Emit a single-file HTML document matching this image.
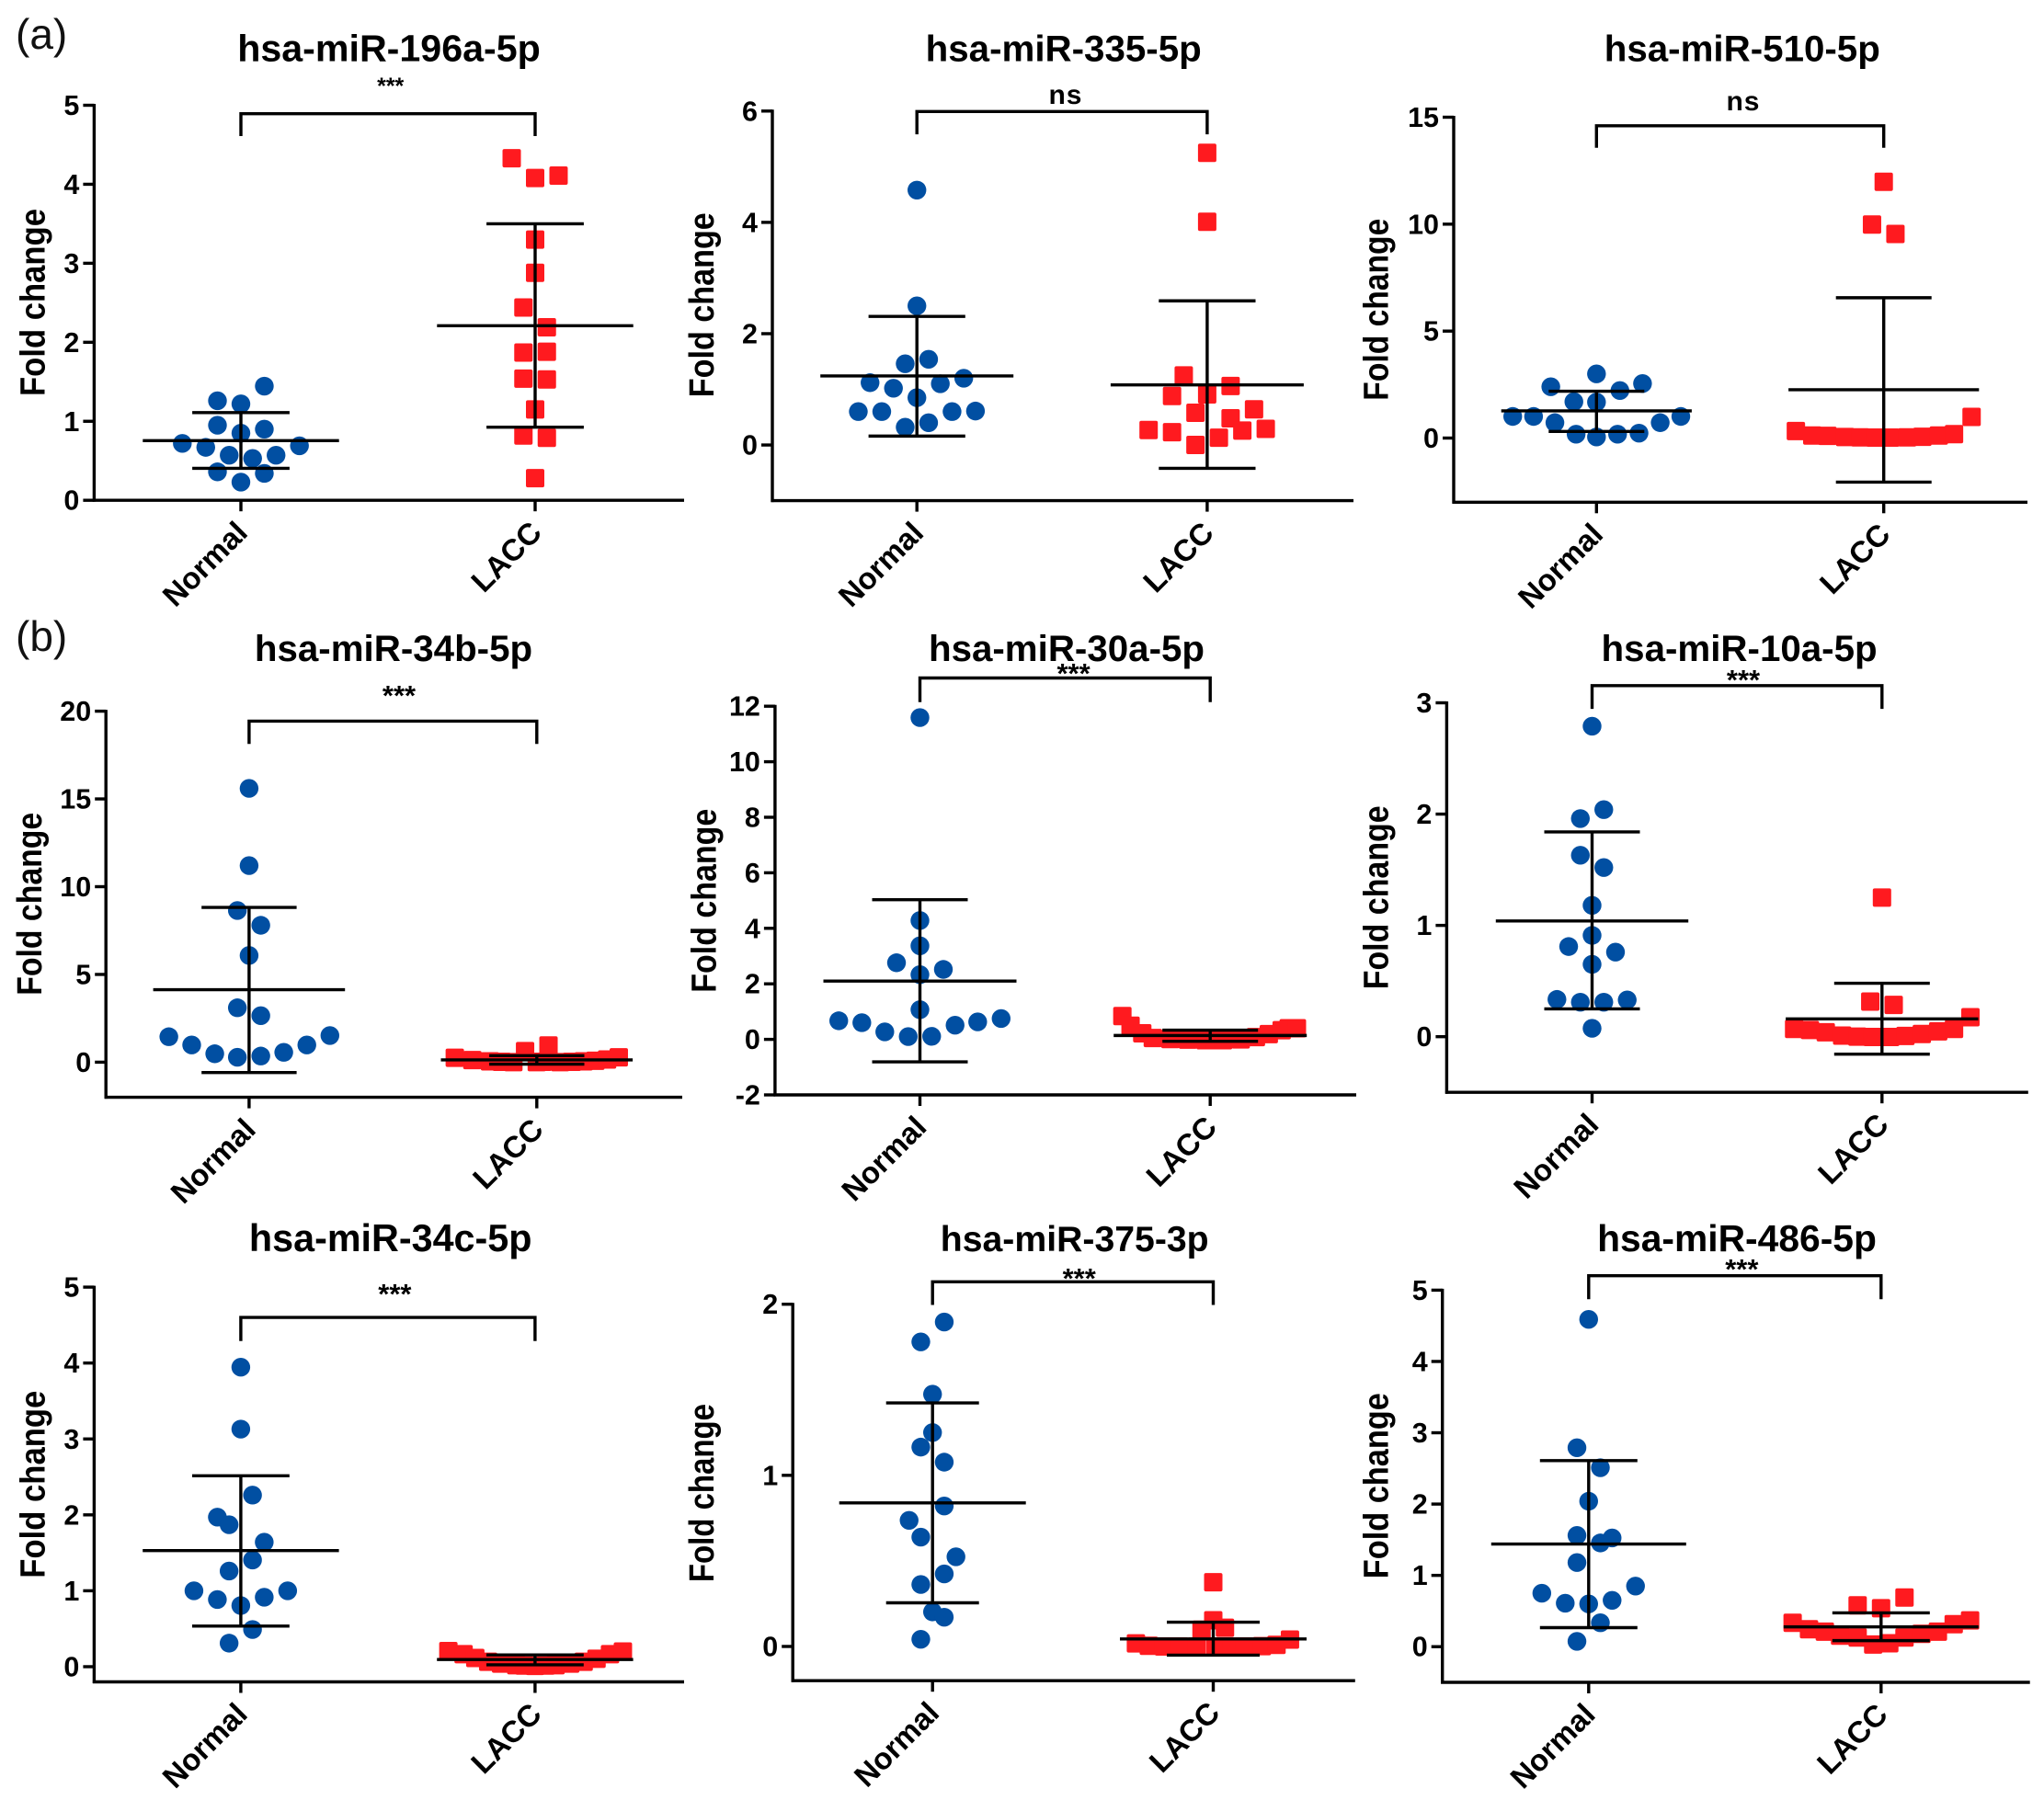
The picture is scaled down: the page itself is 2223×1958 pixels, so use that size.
<!DOCTYPE html>
<html lang="en">
<head>
<meta charset="utf-8">
<title>miRNA fold change scatter plots</title>
<style>
html,body{margin:0;padding:0;background:#fff;}
svg{display:block;font-family:"Liberation Sans",Arial,sans-serif;}
.title{font-size:40.3px;font-weight:bold;text-anchor:middle;fill:#000;}
.ylab{font-size:38px;font-weight:bold;text-anchor:middle;fill:#000;}
.stars{font-size:31px;font-weight:bold;text-anchor:middle;fill:#000;}
.ns{font-size:30px;font-weight:bold;text-anchor:middle;fill:#000;letter-spacing:1px;}
.plabel{font-size:46px;fill:#111;}
.tick{font-size:30.5px;font-weight:bold;text-anchor:end;fill:#000;}
.cat{font-size:33px;font-weight:bold;text-anchor:end;fill:#000;}
</style>
</head>
<body>
<svg id="fig" width="2223" height="1958" viewBox="0 0 2223 1958" xmlns="http://www.w3.org/2000/svg">
<rect width="2223" height="1958" fill="#fff"/>
<text class="plabel" x="17" y="53">(a)</text>
<text class="plabel" x="17" y="708">(b)</text>

<g id="panel-0">
<text class="title" style="font-size:41.2px" x="423" y="66.5">hsa-miR-196a-5p</text>
<text class="ylab" textLength="204" lengthAdjust="spacingAndGlyphs" transform="translate(48.6,329) rotate(-90)">Fold change</text>
<text class="stars" style="font-size:25px" x="424.7" y="102">***</text>
</g>
<g id="panel-1">
<text class="title" x="1156.7" y="66.5">hsa-miR-335-5p</text>
<text class="ylab" textLength="201" lengthAdjust="spacingAndGlyphs" transform="translate(775.9,331.7) rotate(-90)">Fold change</text>
<text class="ns" x="1159" y="112.8">ns</text>
</g>
<g id="panel-2">
<text class="title" x="1894.8" y="66.5">hsa-miR-510-5p</text>
<text class="ylab" textLength="198" lengthAdjust="spacingAndGlyphs" transform="translate(1509.3,336.7) rotate(-90)">Fold change</text>
<text class="ns" x="1896" y="120">ns</text>
</g>
<g id="panel-3">
<text class="title" x="428" y="718.9">hsa-miR-34b-5p</text>
<text class="ylab" textLength="199" lengthAdjust="spacingAndGlyphs" transform="translate(44.8,983.3) rotate(-90)">Fold change</text>
<text class="stars" x="434" y="767">***</text>
</g>
<g id="panel-4">
<text class="title" x="1160" y="718.9">hsa-miR-30a-5p</text>
<text class="ylab" textLength="200" lengthAdjust="spacingAndGlyphs" transform="translate(778.7,979.7) rotate(-90)">Fold change</text>
<text class="stars" x="1167.6" y="743">***</text>
</g>
<g id="panel-5">
<text class="title" x="1891.6" y="718.9">hsa-miR-10a-5p</text>
<text class="ylab" textLength="200" lengthAdjust="spacingAndGlyphs" transform="translate(1509.3,976.3) rotate(-90)">Fold change</text>
<text class="stars" x="1896" y="750">***</text>
</g>
<g id="panel-6">
<text class="title" style="font-size:41.3px" x="424.7" y="1360.8">hsa-miR-34c-5p</text>
<text class="ylab" textLength="204" lengthAdjust="spacingAndGlyphs" transform="translate(48.6,1614.7) rotate(-90)">Fold change</text>
<text class="stars" x="429.4" y="1418">***</text>
</g>
<g id="panel-7">
<text class="title" style="font-size:39.2px" x="1168.7" y="1360.8">hsa-miR-375-3p</text>
<text class="ylab" textLength="194" lengthAdjust="spacingAndGlyphs" transform="translate(775.9,1624.1) rotate(-90)">Fold change</text>
<text class="stars" x="1173.7" y="1401">***</text>
</g>
<g id="panel-8">
<text class="title" style="font-size:40.8px" x="1889" y="1360.8">hsa-miR-486-5p</text>
<text class="ylab" textLength="202" lengthAdjust="spacingAndGlyphs" transform="translate(1509.7,1616.2) rotate(-90)">Fold change</text>
<text class="stars" x="1894.3" y="1391">***</text>
</g>
</svg>

<script>
// Shared categories
const categories = ['Normal', 'LACC'];

// hsa-miR-196a-5p
const p0Ticks = [0, 1, 2, 3, 4, 5];
const p0NormalValues = [1.445, 1.26, 1.22, 0.95, 0.90, 0.85, 0.72, 0.67, 0.69, 0.57, 0.53, 0.57, 0.36, 0.34, 0.23];
const p0NormalSwarm = [2, -2, 0, -2, 2, 0, -5, -3, 5, -1, 1, 3, -2, 2, 0];
const p0LaccValues = [4.33, 4.08, 4.11, 3.30, 2.88, 2.44, 2.19, 1.87, 1.88, 1.54, 1.53, 1.15, 0.82, 0.79, 0.28];
const p0LaccSwarm = [-2, 0, 2, 0, 0, -1, 1, -1, 1, -1, 1, 0, -1, 1, 0];
const p0Mean = [0.755, 2.21];
const p0Upper = [1.11, 3.50];
const p0Lower = [0.405, 0.925];

// hsa-miR-335-5p
const p1Ticks = [0, 2, 4, 6];
const p1NormalValues = [4.58, 2.50, 1.54, 1.46, 1.12, 1.20, 1.02, 1.10, 0.85, 0.60, 0.60, 0.60, 0.61, 0.40, 0.32];
const p1NormalSwarm = [0, 0, 1, -1, -4, 4, -2, 2, 0, -5, -3, 3, 5, 1, -1];
const p1LaccValues = [5.25, 4.01, 1.25, 1.06, 0.88, 0.91, 0.58, 0.64, 0.48, 0.27, 0.23, 0.26, 0.29, 0.13, 0.0];
const p1LaccSwarm = [0, 0, -2, 2, -3, 0, -1, 4, 2, -5, -3, 3, 5, 1, -1];
const p1Mean = [1.24, 1.08];
const p1Upper = [2.31, 2.59];
const p1Lower = [0.16, -0.42];

// hsa-miR-510-5p
const p2Ticks = [0, 5, 10, 15];
const p2NormalValues = [3.0, 2.40, 2.55, 2.22, 1.70, 1.68, 1.01, 1.01, 1.01, 0.72, 0.72, 0.18, 0.18, 0.23, 0.05];
const p2NormalSwarm = [0, -3.9, 3.93, 2, -1.93, 0, -7.15, -5.37, 7.2, -3.55, 5.44, -1.74, 1.8, 3.63, 0];
const p2LaccValues = [11.98, 9.98, 9.54, 0.33, 0.12, 0.10, 0.05, 0.03, 0.02, 0.02, 0.03, 0.06, 0.12, 0.18, 0.99];
const p2LaccSwarm = [0, -1, 1, -7.5, -6.1, -4.8, -3.3, -2, -0.7, 0.55, 2, 3.3, 4.7, 6, 7.5];
const p2Mean = [1.27, 2.26];
const p2Upper = [2.19, 6.56];
const p2Lower = [0.31, -2.06];

// hsa-miR-34b-5p
const p3Ticks = [0, 5, 10, 15, 20];
const p3NormalValues = [15.6, 11.2, 8.64, 7.8, 6.08, 3.1, 2.65, 1.45, 0.98, 0.48, 0.28, 0.35, 0.56, 0.98, 1.52];
const p3NormalSwarm = [0, 0, -1, 1, 0, -1, 1, -6.85, -4.9, -2.93, -1, 1, 2.96, 4.93, 6.9];
const p3LaccValues = [0.25, 0.12, 0.05, 0.02, 0.0, 0.63, 0.0, 0.95, 0.0, 0.02, 0.05, 0.08, 0.15, 0.28, 0.02];
const p3LaccSwarm = [-7, -5.5, -4, -3, -2, -1, 0, 1, 2, 3, 4, 5, 6, 7, 0.5];
const p3Mean = [4.13, 0.13];
const p3Upper = [8.82, 0.37];
const p3Lower = [-0.59, -0.11];

// hsa-miR-30a-5p
const p4Ticks = [-2, 0, 2, 4, 6, 8, 10, 12];
const p4NormalValues = [11.59, 4.28, 3.37, 2.76, 2.52, 2.33, 1.07, 0.67, 0.60, 0.27, 0.10, 0.11, 0.51, 0.63, 0.75];
const p4NormalSwarm = [0, 0, 0, -2, 2, 0, 0, -6.93, -4.96, -3, -1, 1, 3, 4.93, 6.93];
const p4LaccValues = [0.84, 0.49, 0.22, 0.05, 0.01, -0.01, -0.03, -0.03, -0.03, 0.0, 0.08, 0.19, 0.33, 0.40, 0.40];
const p4LaccSwarm = [-7.5, -6.8, -5.8, -4.9, -3.4, -1.9, -0.4, 0.4, 1.1, 2.6, 3.9, 5, 6.1, 6.7, 7.4];
const p4Mean = [2.10, 0.14];
const p4Upper = [5.03, 0.33];
const p4Lower = [-0.81, -0.07];

// hsa-miR-10a-5p
const p5Ticks = [0, 1, 2, 3];
const p5NormalValues = [2.79, 2.04, 1.96, 1.63, 1.52, 1.18, 0.91, 0.81, 0.76, 0.65, 0.335, 0.31, 0.31, 0.33, 0.075];
const p5NormalSwarm = [0, 1, -1, -1, 1, 0, 0, -2, 2, 0, -3, -1, 1, 3, 0];
const p5LaccValues = [1.25, 0.315, 0.285, 0.175, 0.07, 0.06, 0.04, 0.01, 0.0, -0.003, -0.003, 0.007, 0.024, 0.048, 0.07];
const p5LaccSwarm = [0, -1, 1, 7.55, -7.5, -6.15, -4.8, -3.4, -2.1, -0.8, 0.7, 2, 3.4, 4.8, 6.15];
const p5Mean = [1.04, 0.16];
const p5Upper = [1.84, 0.48];
const p5Lower = [0.25, -0.157];

// hsa-miR-34c-5p
const p6Ticks = [0, 1, 2, 3, 4, 5];
const p6NormalValues = [3.945, 3.13, 2.26, 1.97, 1.87, 1.64, 1.405, 1.26, 1.0, 1.0, 0.885, 0.915, 0.805, 0.49, 0.31];
const p6NormalSwarm = [0, 0, 1, -2, -1, 2, 1, -1, -4, 4, -2, 2, 0, 1, -1];
const p6LaccValues = [0.205, 0.165, 0.115, 0.065, 0.04, 0.02, 0.015, 0.01, 0.015, 0.02, 0.04, 0.065, 0.105, 0.165, 0.20];
const p6LaccSwarm = [-7.4, -6.1, -5.1, -4, -2.9, -1.6, -0.9, 0, 0.9, 1.75, 3, 4.15, 5.25, 6.4, 7.5];
const p6Mean = [1.53, 0.095];
const p6Upper = [2.515, 0.155];
const p6Lower = [0.535, 0.025];

// hsa-miR-375-3p
const p7Ticks = [0, 1, 2];
const p7NormalValues = [1.896, 1.78, 1.474, 1.25, 1.165, 1.077, 0.821, 0.737, 0.639, 0.524, 0.424, 0.362, 0.202, 0.171, 0.042];
const p7NormalSwarm = [1, -1, 0, 0, -1, 1, 1, -2, -1, 2, 1, -1, 0, 1, -1];
const p7LaccValues = [0.375, 0.153, 0.098, 0.109, 0.018, 0.004, 0.0, 0.0, 0.0, 0.0, 0.0, 0.0, 0.002, 0.009, 0.04];
const p7LaccSwarm = [0, 0, -1, 1, -6.6, -5.5, -4.2, -2.9, -1.4, 0.2, 1.55, 2.7, 4.15, 5.4, 6.55];
const p7Mean = [0.839, 0.044];
const p7Upper = [1.423, 0.142];
const p7Lower = [0.255, -0.051];

// hsa-miR-486-5p
const p8Ticks = [0, 1, 2, 3, 4, 5];
const p8NormalValues = [4.59, 2.79, 2.51, 2.04, 1.56, 1.525, 1.455, 1.18, 0.85, 0.75, 0.65, 0.61, 0.60, 0.335, 0.075];
const p8NormalSwarm = [0, -1, 1, 0, -1, 2, 1, -1, 4, -4, 2, -2, 0, 1, -1];
const p8LaccValues = [0.69, 0.58, 0.54, 0.335, 0.245, 0.21, 0.155, 0.128, 0.03, 0.048, 0.128, 0.18, 0.21, 0.315, 0.368];
const p8LaccSwarm = [2, -2, 0, -7.55, -6.15, -4.8, -3.5, -2, -0.67, 0.7, 2, 3.45, 4.85, 6.2, 7.6];
const p8Mean = [1.44, 0.277];
const p8Upper = [2.61, 0.474];
const p8Lower = [0.267, 0.085];

// Layout (pixels) for each panel, separate from the data above
const layouts = [
  {axisX:102.4, endX:744,    top:114.5,  bottom:544.2,  min:0,    max:5,  cx:[262,582],       meanHalf:106.7, capHalf:52.9, bTop:123.7,  bBottom:148},
  {axisX:840,   endX:1472,   top:120.8,  bottom:544.6,  min:-1,   max:6,  cx:[997.2,1312.9],  meanHalf:105,   capHalf:52.6, bTop:121.3,  bBottom:146.1},
  {axisX:1581,  endX:2205,   top:127.5,  bottom:546.3,  min:-3,   max:15, cx:[1736.3,2048.7], meanHalf:103.6, capHalf:52,   bTop:136.8,  bBottom:160.8},
  {axisX:115.2, endX:742,    top:773.6,  bottom:1193.6, min:-2,   max:20, cx:[270.9,583.8],   meanHalf:104.3, capHalf:51.7, bTop:784.4,  bBottom:809.3},
  {axisX:842.9, endX:1475,   top:768.2,  bottom:1191,   min:-2,   max:12, cx:[1000.5,1316.2], meanHalf:105,   capHalf:52,   bTop:737.5,  bBottom:763.7},
  {axisX:1573.4,endX:2205.8, top:764.5,  bottom:1188.2, min:-0.5, max:3,  cx:[1731.5,2046.8], meanHalf:104.7, capHalf:52,   bTop:745.8,  bBottom:771.1},
  {axisX:102.4, endX:744,    top:1400.1, bottom:1829.5, min:-0.2, max:5,  cx:[261.9,581.9],   meanHalf:106.7, capHalf:52.9, bTop:1433.1, bBottom:1458.8},
  {axisX:862.2, endX:1473.8, top:1418.7, bottom:1828.2, min:-0.2, max:2,  cx:[1014.2,1319.5], meanHalf:101.5, capHalf:50.5, bTop:1394.3, bBottom:1419.5},
  {axisX:1568.7,endX:2207.7, top:1403.4, bottom:1830,   min:-0.5, max:5,  cx:[1727.8,2045.8], meanHalf:106,   capHalf:53,   bTop:1387.7, bBottom:1413.3}
];

const series = [
  [p0Ticks, p0NormalValues, p0NormalSwarm, p0LaccValues, p0LaccSwarm, p0Mean, p0Upper, p0Lower],
  [p1Ticks, p1NormalValues, p1NormalSwarm, p1LaccValues, p1LaccSwarm, p1Mean, p1Upper, p1Lower],
  [p2Ticks, p2NormalValues, p2NormalSwarm, p2LaccValues, p2LaccSwarm, p2Mean, p2Upper, p2Lower],
  [p3Ticks, p3NormalValues, p3NormalSwarm, p3LaccValues, p3LaccSwarm, p3Mean, p3Upper, p3Lower],
  [p4Ticks, p4NormalValues, p4NormalSwarm, p4LaccValues, p4LaccSwarm, p4Mean, p4Upper, p4Lower],
  [p5Ticks, p5NormalValues, p5NormalSwarm, p5LaccValues, p5LaccSwarm, p5Mean, p5Upper, p5Lower],
  [p6Ticks, p6NormalValues, p6NormalSwarm, p6LaccValues, p6LaccSwarm, p6Mean, p6Upper, p6Lower],
  [p7Ticks, p7NormalValues, p7NormalSwarm, p7LaccValues, p7LaccSwarm, p7Mean, p7Upper, p7Lower],
  [p8Ticks, p8NormalValues, p8NormalSwarm, p8LaccValues, p8LaccSwarm, p8Mean, p8Upper, p8Lower]
];

const SVGNS = 'http://www.w3.org/2000/svg';
const SWARM_STEP = 12.74;
const BLUE = '#014fa2';
const RED = '#ff1a1f';
const LINE = 3.4;

function make(parent, tag, attrs) {
  const el = document.createElementNS(SVGNS, tag);
  for (const k in attrs) el.setAttribute(k, attrs[k]);
  parent.appendChild(el);
  return el;
}

function line(parent, x1, y1, x2, y2, w) {
  return make(parent, 'line', {x1: x1, y1: y1, x2: x2, y2: y2, stroke: '#000', 'stroke-width': w});
}

function drawPanel(index) {
  const g = document.getElementById('panel-' + index);
  const L = layouts[index];
  const S = series[index];
  const ticks = S[0], nVals = S[1], nSwarm = S[2], lVals = S[3], lSwarm = S[4];
  const mean = S[5], upper = S[6], lower = S[7];

  const yScale = function (v) {
    return L.bottom - (v - L.min) / (L.max - L.min) * (L.bottom - L.top);
  };
  const xScale = function (catIndex, col) {
    return L.cx[catIndex] + col * SWARM_STEP;
  };

  // Axes
  const yAxis = line(g, L.axisX, L.top - 1.5, L.axisX, L.bottom + 1.5, LINE);
  
  
  const xAxis = line(g, L.axisX - 1.5, L.bottom, L.endX, L.bottom, LINE);
  
  

  // Y ticks
  ticks.forEach(function (t) {
    const y = yScale(t);
    const tk = line(g, L.axisX - 12, y, L.axisX, y, LINE);
    
    
    const lab = make(g, 'text', {'class': 'tick', x: L.axisX - 16, y: y + 10.5});
    lab.textContent = String(t);
    
    
  });

  // X ticks and category labels
  categories.forEach(function (name, c) {
    const x = xScale(c, 0);
    const tk = line(g, x, L.bottom, x, L.bottom + 12, LINE);
    
    
    const lab = make(g, 'text', {'class': 'cat', transform: 'translate(' + (x + 9) + ',' + (L.bottom + 37) + ') rotate(-45)'});
    lab.textContent = name;
    
    
  });

  // Significance bracket
  const br = make(g, 'path', {
    d: 'M' + xScale(0, 0) + ' ' + L.bBottom + 'V' + L.bTop + 'H' + xScale(1, 0) + 'V' + L.bBottom,
    fill: 'none', stroke: '#000', 'stroke-width': LINE
  });
  
  

  // Normal points
  nVals.forEach(function (v, i) {
    const pt = make(g, 'circle', {cx: xScale(0, nSwarm[i]), cy: yScale(v), r: 10.2, fill: BLUE});
    
    
  });

  // LACC points
  lVals.forEach(function (v, i) {
    const pt = make(g, 'rect', {x: xScale(1, lSwarm[i]) - 10, y: yScale(v) - 10, width: 20, height: 20, rx: 2, fill: RED});
    
    
  });

  // Mean and SD bars
  categories.forEach(function (name, c) {
    const x = xScale(c, 0);
    const stem = line(g, x, yScale(upper[c]), x, yScale(lower[c]), LINE);
    
    
    const capU = line(g, x - L.capHalf, yScale(upper[c]), x + L.capHalf, yScale(upper[c]), LINE);
    
    
    const capL = line(g, x - L.capHalf, yScale(lower[c]), x + L.capHalf, yScale(lower[c]), LINE);
    
    
    const m = line(g, x - L.meanHalf, yScale(mean[c]), x + L.meanHalf, yScale(mean[c]), LINE);
    
    
  });
}

for (let i = 0; i < layouts.length; i++) drawPanel(i);
</script>
</body>
</html>
